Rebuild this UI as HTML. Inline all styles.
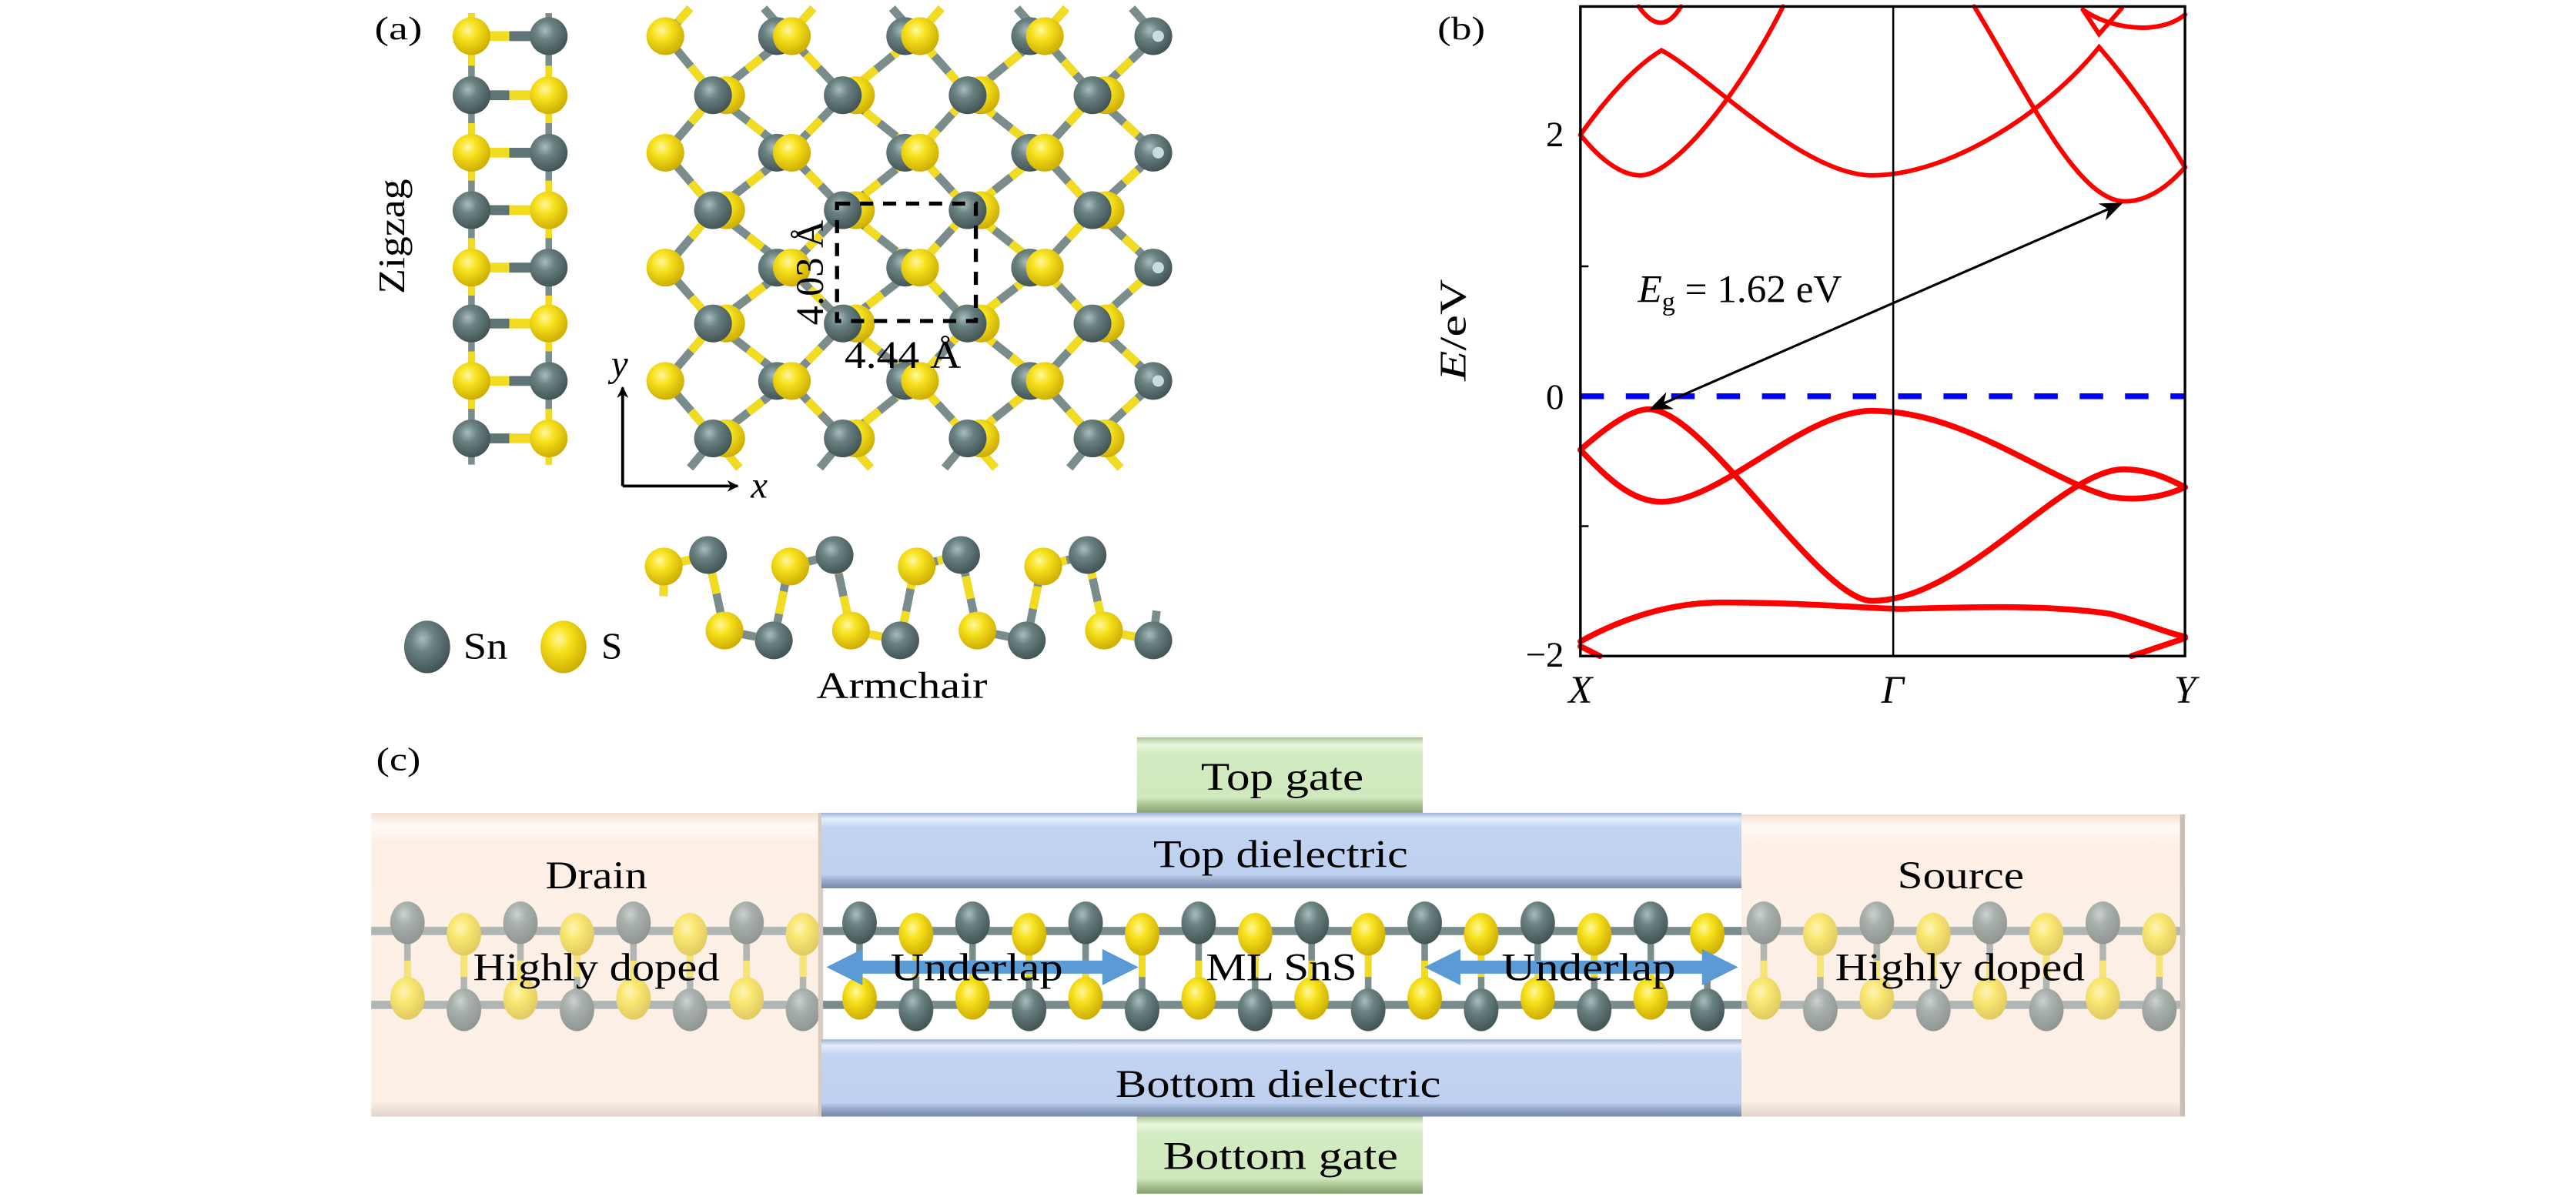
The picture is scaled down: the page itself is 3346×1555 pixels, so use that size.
<!DOCTYPE html>
<html><head><meta charset="utf-8"><style>
html,body{margin:0;padding:0;background:#fff;}
svg{display:block;}
text{font-family:"Liberation Serif",serif;fill:#000;}
</style></head><body>
<svg width="3346" height="1555" viewBox="0 0 1568 729" preserveAspectRatio="none" xmlns="http://www.w3.org/2000/svg">
<defs>
<radialGradient id="gSn" cx="0.4" cy="0.35" r="0.7">
<stop offset="0" stop-color="#a9bcbc"/><stop offset="0.35" stop-color="#6b8282"/><stop offset="1" stop-color="#3e4f50"/></radialGradient>
<radialGradient id="gS" cx="0.4" cy="0.35" r="0.7">
<stop offset="0" stop-color="#fff7a0"/><stop offset="0.35" stop-color="#f7e21e"/><stop offset="1" stop-color="#c9a800"/></radialGradient>
<circle id="sn" r="11.5" fill="url(#gSn)"/>
<circle id="s" r="11.5" fill="url(#gS)"/>
<linearGradient id="gBlue" x1="0" y1="0" x2="0" y2="1">
<stop offset="0" stop-color="#9fb3d6"/><stop offset="0.08" stop-color="#e4eefc"/><stop offset="0.2" stop-color="#c2d4f1"/><stop offset="0.82" stop-color="#bdd0ef"/><stop offset="0.9" stop-color="#98aacb"/><stop offset="1" stop-color="#7788a8"/></linearGradient>
<linearGradient id="gGreen" x1="0" y1="0" x2="0" y2="1">
<stop offset="0" stop-color="#a9c493"/><stop offset="0.1" stop-color="#eaf7de"/><stop offset="0.22" stop-color="#d3ebc2"/><stop offset="0.8" stop-color="#cfe8bd"/><stop offset="0.9" stop-color="#a6c08f"/><stop offset="1" stop-color="#86a070"/></linearGradient>
<linearGradient id="gPeach" x1="0" y1="0" x2="0" y2="1">
<stop offset="0" stop-color="#f3dfd2"/><stop offset="0.04" stop-color="#fffaf6"/><stop offset="0.1" stop-color="#fdefe5"/><stop offset="0.95" stop-color="#fcefe6"/><stop offset="1" stop-color="#e2d4ca"/></linearGradient>
<radialGradient id="eSn" cx="0.4" cy="0.3" r="0.75">
<stop offset="0" stop-color="#a9bcbc"/><stop offset="0.35" stop-color="#6b8282"/><stop offset="1" stop-color="#3e4f50"/></radialGradient>
<pattern id="layer" patternUnits="userSpaceOnUse" x="213.6" y="540" width="68.8" height="100">
<line x1="0" y1="27" x2="68.8" y2="27" stroke="#7a8c8c" stroke-width="5"/>
<line x1="0" y1="72" x2="68.8" y2="72" stroke="#7a8c8c" stroke-width="5"/>
<line x1="34.4" y1="27" x2="34.4" y2="72" stroke="#7a8c8c" stroke-width="4"/>
<line x1="34.4" y1="45" x2="34.4" y2="58" stroke="#f2dc22" stroke-width="4"/>
<line x1="0" y1="27" x2="0" y2="72" stroke="#7a8c8c" stroke-width="4"/>
<line x1="68.8" y1="27" x2="68.8" y2="72" stroke="#7a8c8c" stroke-width="4"/>
<line x1="0" y1="40" x2="0" y2="55" stroke="#f2dc22" stroke-width="4"/>
<line x1="68.8" y1="40" x2="68.8" y2="55" stroke="#f2dc22" stroke-width="4"/>
<ellipse cx="0" cy="29" rx="10.5" ry="13" fill="url(#gS)"/>
<ellipse cx="68.8" cy="29" rx="10.5" ry="13" fill="url(#gS)"/>
<ellipse cx="34.4" cy="22" rx="10.5" ry="13" fill="url(#eSn)"/>
<ellipse cx="34.4" cy="68" rx="10.5" ry="13" fill="url(#gS)"/>
<ellipse cx="0" cy="75" rx="10.5" ry="13" fill="url(#eSn)"/>
<ellipse cx="68.8" cy="75" rx="10.5" ry="13" fill="url(#eSn)"/>
</pattern>
<marker id="ah" viewBox="0 0 10 10" refX="9" refY="5" markerWidth="7" markerHeight="7" orient="auto-start-reverse" markerUnits="userSpaceOnUse">
<path d="M0,0 L10,5 L0,10 L3,5 Z" fill="#000"/></marker>
<marker id="ah2" viewBox="0 0 10 10" refX="9" refY="5" markerWidth="14" markerHeight="14" orient="auto-start-reverse" markerUnits="userSpaceOnUse">
<path d="M0,1 L10,5 L0,9 L3,5 Z" fill="#000"/></marker>
</defs>

<!-- ===== Panel (a) ===== -->
<text x="228" y="24" font-size="20" textLength="29" lengthAdjust="spacingAndGlyphs">(a)</text>
<text font-size="23" transform="translate(246,144) rotate(-90)" text-anchor="middle" textLength="70" lengthAdjust="spacingAndGlyphs">Zigzag</text>

<!-- zigzag side view -->
<g>
<line x1="287" y1="8" x2="287" y2="283" stroke="#7a8c8c" stroke-width="4"/>
<line x1="334" y1="8" x2="334" y2="283" stroke="#7a8c8c" stroke-width="4"/>
<g stroke="#f2dc22" stroke-width="4">
<line x1="287" y1="8" x2="287" y2="40"/><line x1="287" y1="75" x2="287" y2="110"/><line x1="287" y1="145" x2="287" y2="180"/><line x1="287" y1="214" x2="287" y2="249"/>
<line x1="334" y1="40" x2="334" y2="75"/><line x1="334" y1="110" x2="334" y2="145"/><line x1="334" y1="180" x2="334" y2="214"/><line x1="334" y1="249" x2="334" y2="283"/>
</g>
<g stroke-width="6">
<line x1="287" y1="22" x2="334" y2="22" stroke="#f2dc22"/><line x1="310" y1="22" x2="334" y2="22" stroke="#5f7474"/>
<line x1="287" y1="58" x2="334" y2="58" stroke="#f2dc22"/><line x1="287" y1="58" x2="310" y2="58" stroke="#5f7474"/>
<line x1="287" y1="93" x2="334" y2="93" stroke="#f2dc22"/><line x1="310" y1="93" x2="334" y2="93" stroke="#5f7474"/>
<line x1="287" y1="128" x2="334" y2="128" stroke="#f2dc22"/><line x1="287" y1="128" x2="310" y2="128" stroke="#5f7474"/>
<line x1="287" y1="163" x2="334" y2="163" stroke="#f2dc22"/><line x1="310" y1="163" x2="334" y2="163" stroke="#5f7474"/>
<line x1="287" y1="197" x2="334" y2="197" stroke="#f2dc22"/><line x1="287" y1="197" x2="310" y2="197" stroke="#5f7474"/>
<line x1="287" y1="232" x2="334" y2="232" stroke="#f2dc22"/><line x1="310" y1="232" x2="334" y2="232" stroke="#5f7474"/>
<line x1="287" y1="267" x2="334" y2="267" stroke="#f2dc22"/><line x1="287" y1="267" x2="310" y2="267" stroke="#5f7474"/>
</g>
<use href="#s" x="287" y="22"/><use href="#sn" x="334" y="22"/>
<use href="#sn" x="287" y="58"/><use href="#s" x="334" y="58"/>
<use href="#s" x="287" y="93"/><use href="#sn" x="334" y="93"/>
<use href="#sn" x="287" y="128"/><use href="#s" x="334" y="128"/>
<use href="#s" x="287" y="163"/><use href="#sn" x="334" y="163"/>
<use href="#sn" x="287" y="197"/><use href="#s" x="334" y="197"/>
<use href="#s" x="287" y="232"/><use href="#sn" x="334" y="232"/>
<use href="#sn" x="287" y="267"/><use href="#s" x="334" y="267"/>
</g>

<!-- top view -->
<g fill="none" stroke-linejoin="round">
<g stroke="#7a8c8c" stroke-width="5">
<line x1="405" y1="22" x2="420" y2="5"/>
<polyline points="405,22 435,58 480,22 514,58 558,22 590,58 634,22 666,58 704,22"/>
<polyline points="405,93 435,58 480,93 514,58 558,93 590,58 634,93 666,58 704,93"/>
<polyline points="405,93 435,128 480,93 514,128 558,93 590,128 634,93 666,128 704,93"/>
<polyline points="405,163 435,128 480,163 514,128 558,163 590,128 634,163 666,128 704,163"/>
<polyline points="405,163 435,197 480,163 514,197 558,163 590,197 634,163 666,197 704,163"/>
<polyline points="405,232 435,197 480,232 514,197 558,232 590,197 634,232 666,197 704,232"/>
<polyline points="405,232 435,267 480,232 514,267 558,232 590,267 634,232 666,267 704,232"/>
<line x1="420" y1="285" x2="435" y2="267"/><line x1="435" y1="267" x2="450" y2="285"/>
<line x1="499" y1="285" x2="514" y2="267"/><line x1="514" y1="267" x2="530" y2="285"/>
<line x1="575" y1="285" x2="590" y2="267"/><line x1="590" y1="267" x2="606" y2="285"/>
<line x1="651" y1="285" x2="666" y2="267"/><line x1="666" y1="267" x2="682" y2="285"/>
<line x1="465" y1="5" x2="480" y2="22"/><line x1="480" y1="22" x2="495" y2="5"/>
<line x1="543" y1="5" x2="558" y2="22"/><line x1="558" y1="22" x2="573" y2="5"/>
<line x1="619" y1="5" x2="634" y2="22"/><line x1="634" y1="22" x2="649" y2="5"/>
<line x1="689" y1="5" x2="704" y2="22"/>
</g>
<g stroke="#f2dc22" stroke-width="5" stroke-dasharray="11 13">
<polyline points="405,22 435,58 480,22 514,58 558,22 590,58 634,22 666,58 704,22"/>
<polyline points="405,93 435,58 480,93 514,58 558,93 590,58 634,93 666,58 704,93"/>
<polyline points="405,93 435,128 480,93 514,128 558,93 590,128 634,93 666,128 704,93"/>
<polyline points="405,163 435,128 480,163 514,128 558,163 590,128 634,163 666,128 704,163"/>
<polyline points="405,163 435,197 480,163 514,197 558,163 590,197 634,163 666,197 704,163"/>
<polyline points="405,232 435,197 480,232 514,197 558,232 590,197 634,232 666,197 704,232"/>
<polyline points="405,232 435,267 480,232 514,267 558,232 590,267 634,232 666,267 704,232"/>
<line x1="495" y1="5" x2="480" y2="22"/><line x1="573" y1="5" x2="558" y2="22"/><line x1="649" y1="5" x2="634" y2="22"/><line x1="420" y1="5" x2="405" y2="22"/>
<line x1="450" y1="285" x2="435" y2="267"/><line x1="530" y1="285" x2="514" y2="267"/><line x1="606" y1="285" x2="590" y2="267"/><line x1="682" y1="285" x2="666" y2="267"/>
</g>
</g>
<g>
<use href="#s" x="405" y="22"/><use href="#sn" x="473" y="22"/><use href="#s" x="482" y="22"/><use href="#sn" x="551" y="22"/><use href="#s" x="560" y="22"/><use href="#sn" x="627" y="22"/><use href="#s" x="636" y="22"/><use href="#sn" x="702" y="22"/>
<use href="#s" x="405" y="93"/><use href="#sn" x="473" y="93"/><use href="#s" x="482" y="93"/><use href="#sn" x="551" y="93"/><use href="#s" x="560" y="93"/><use href="#sn" x="627" y="93"/><use href="#s" x="636" y="93"/><use href="#sn" x="702" y="93"/>
<use href="#s" x="405" y="163"/><use href="#sn" x="473" y="163"/><use href="#s" x="482" y="163"/><use href="#sn" x="551" y="163"/><use href="#s" x="560" y="163"/><use href="#sn" x="627" y="163"/><use href="#s" x="636" y="163"/><use href="#sn" x="702" y="163"/>
<use href="#s" x="405" y="232"/><use href="#sn" x="473" y="232"/><use href="#s" x="482" y="232"/><use href="#sn" x="551" y="232"/><use href="#s" x="560" y="232"/><use href="#sn" x="627" y="232"/><use href="#s" x="636" y="232"/><use href="#sn" x="702" y="232"/>
<g fill="#c8dede"><circle cx="705" cy="22" r="3.5"/><circle cx="705" cy="93" r="3.5"/><circle cx="705" cy="163" r="3.5"/><circle cx="705" cy="232" r="3.5"/></g>
<use href="#s" x="442" y="58"/><use href="#sn" x="434" y="58"/><use href="#s" x="521" y="58"/><use href="#sn" x="513" y="58"/><use href="#s" x="597" y="58"/><use href="#sn" x="589" y="58"/><use href="#s" x="673" y="58"/><use href="#sn" x="665" y="58"/>
<use href="#s" x="442" y="128"/><use href="#sn" x="434" y="128"/><use href="#s" x="521" y="128"/><use href="#sn" x="513" y="128"/><use href="#s" x="597" y="128"/><use href="#sn" x="589" y="128"/><use href="#s" x="673" y="128"/><use href="#sn" x="665" y="128"/>
<use href="#s" x="442" y="197"/><use href="#sn" x="434" y="197"/><use href="#s" x="521" y="197"/><use href="#sn" x="513" y="197"/><use href="#s" x="597" y="197"/><use href="#sn" x="589" y="197"/><use href="#s" x="673" y="197"/><use href="#sn" x="665" y="197"/>
<use href="#s" x="442" y="267"/><use href="#sn" x="434" y="267"/><use href="#s" x="521" y="267"/><use href="#sn" x="513" y="267"/><use href="#s" x="597" y="267"/><use href="#sn" x="589" y="267"/><use href="#s" x="673" y="267"/><use href="#sn" x="665" y="267"/>
</g>
<rect x="509.5" y="124" width="84.5" height="71.5" fill="none" stroke="#000" stroke-width="2.5" stroke-dasharray="8 6"/>
<text font-size="24" transform="translate(501,198) rotate(-90)" textLength="64" lengthAdjust="spacingAndGlyphs">4.03 Å</text>
<text x="514" y="224" font-size="24" textLength="71" lengthAdjust="spacingAndGlyphs">4.44 Å</text>
<line x1="379" y1="296" x2="379" y2="236" stroke="#000" stroke-width="1.8" marker-end="url(#ah)"/>
<line x1="379" y1="296" x2="449" y2="296" stroke="#000" stroke-width="1.8" marker-end="url(#ah)"/>
<text x="372" y="229" font-size="23" font-style="italic">y</text>
<text x="457" y="303" font-size="23" font-style="italic">x</text>

<!-- armchair -->
<g fill="none">
<polyline points="404,363 404,345 431,338 441,384 471,390 480,345 508,338 518,384 548,390 557,345 585,338 595,384 625,390 634,345 662,338 672,384 702,390 704,372" stroke="#7a8c8c" stroke-width="5" stroke-linejoin="round"/>
<polyline points="404,363 404,345 431,338 441,384 471,390 480,345 508,338 518,384 548,390 557,345 585,338 595,384 625,390 634,345 662,338 672,384 702,390" stroke="#f2dc22" stroke-width="5" stroke-dasharray="14 14" stroke-linejoin="round"/>
</g>
<use href="#s" x="404" y="345"/><use href="#sn" x="431" y="338"/><use href="#s" x="441" y="384"/><use href="#sn" x="471" y="390"/>
<use href="#s" x="481" y="345"/><use href="#sn" x="508" y="338"/><use href="#s" x="518" y="384"/><use href="#sn" x="548" y="390"/>
<use href="#s" x="558" y="345"/><use href="#sn" x="585" y="338"/><use href="#s" x="595" y="384"/><use href="#sn" x="625" y="390"/>
<use href="#s" x="635" y="345"/><use href="#sn" x="662" y="338"/><use href="#s" x="672" y="384"/><use href="#sn" x="702" y="390"/>
<text x="497" y="425" font-size="23" textLength="104" lengthAdjust="spacingAndGlyphs">Armchair</text>
<ellipse cx="260" cy="394" rx="14" ry="16" fill="url(#gSn)"/>
<text x="282" y="401" font-size="23" textLength="27" lengthAdjust="spacingAndGlyphs">Sn</text>
<ellipse cx="343" cy="394" rx="14" ry="16" fill="url(#gS)"/>
<text x="366" y="401" font-size="23">S</text>

<!-- ===== Panel (b) ===== -->
<text x="875" y="24" font-size="20" textLength="29" lengthAdjust="spacingAndGlyphs">(b)</text>
<text font-size="23" transform="translate(892,201) rotate(-90)" text-anchor="middle" textLength="62" lengthAdjust="spacingAndGlyphs"><tspan font-style="italic">E</tspan>/eV</text>
<text x="952" y="89" font-size="22" text-anchor="end">2</text>
<text x="952" y="249" font-size="22" text-anchor="end">0</text>
<text x="952" y="406" font-size="22" text-anchor="end">−2</text>
<text x="962" y="428" font-size="24" font-style="italic" text-anchor="middle">X</text>
<text x="1152" y="428" font-size="24" font-style="italic" text-anchor="middle">Γ</text>
<text x="1330" y="428" font-size="24" font-style="italic" text-anchor="middle">Y</text>
<g transform="matrix(0.9866,0,0,0.989,11.9,0)">
<g fill="none" stroke="#f00" stroke-linecap="round">
<g stroke-width="2.8">
<path d="M963,83 C975,98 988,108 1000,108 C1020,108 1060,60 1088,4"/>
<path d="M963,83 Q990,45 1013,31 C1040,45 1100,108 1143,108 C1190,108 1250,70 1283,29 Q1310,60 1336,103"/>
<path d="M1206,4 C1240,60 1270,124 1299,124 C1315,124 1328,112 1336,103"/>
<path d="M999,4 Q1013,24 1025,4"/>
<path d="M1273,6 L1283,21 L1297,5"/>
<path d="M1273,6 C1290,18 1320,22 1336,9"/>
</g>
<g stroke-width="3.6">
<path d="M963,277 C980,262 995,252 1005,252 C1040,252 1110,370 1143,370 C1200,370 1260,289 1298,289 C1315,289 1328,296 1336,300"/>
<path d="M963,277 C980,295 995,309 1013,309 C1050,309 1100,253 1143,253 C1200,253 1250,295 1290,306 C1310,309 1325,305 1336,300"/>
<path d="M963,395 C990,380 1020,371 1050,371 C1100,371 1130,374 1160,375 C1200,374 1250,372 1290,378 C1310,383 1325,390 1336,392"/>
<path d="M963,398 L975,404"/><path d="M1303,404 L1336,393"/>
</g>
</g>
<line x1="963" y1="244" x2="1336" y2="244" stroke="#0000ff" stroke-width="3.6" stroke-dasharray="14.5 13.5"/>
<line x1="1156" y1="4" x2="1156" y2="404" stroke="#000" stroke-width="1.2"/>
<line x1="963" y1="164" x2="968" y2="164" stroke="#000" stroke-width="1.2"/>
<line x1="963" y1="324" x2="968" y2="324" stroke="#000" stroke-width="1.2"/>
<rect x="963" y="4" width="373" height="400" fill="none" stroke="#000" stroke-width="1.6"/>
</g>
<line x1="1291" y1="124" x2="1005" y2="249" stroke="#000" stroke-width="1.5" marker-start="url(#ah2)" marker-end="url(#ah2)"/>
<text x="997" y="184" font-size="24"><tspan font-style="italic">E</tspan><tspan font-size="16" dy="5">g</tspan><tspan dy="-5"> = 1.62 eV</tspan></text>

<!-- ===== Panel (c) ===== -->
<text x="229" y="469" font-size="20" textLength="27" lengthAdjust="spacingAndGlyphs">(c)</text>
<rect x="226" y="495" width="274" height="185" fill="url(#gPeach)"/>
<rect x="1060" y="496" width="270" height="184" fill="url(#gPeach)"/>
<rect x="226" y="540" width="1104" height="100" fill="url(#layer)"/>
<rect x="226" y="540" width="274" height="100" fill="#fdf0e6" opacity="0.42"/>
<rect x="1060" y="540" width="270" height="100" fill="#fdf0e6" opacity="0.42"/>
<rect x="498" y="495" width="3" height="185" fill="#d8cbc2"/>
<rect x="1327" y="496" width="3" height="184" fill="#c9bdb5"/>
<rect x="692" y="449" width="174" height="46" fill="url(#gGreen)"/>
<rect x="692" y="680" width="174" height="47" fill="url(#gGreen)"/>
<rect x="500" y="495" width="560" height="46" fill="url(#gBlue)"/>
<rect x="500" y="633" width="560" height="47" fill="url(#gBlue)"/>
<g fill="#5b9bd5">
<polygon points="503,589 525,578 525,585 671,585 671,578 693,589 671,600 671,593 525,593 525,600"/>
<polygon points="867,589 889,578 889,585 1036,585 1036,578 1058,589 1036,600 1036,593 889,593 889,600"/>
</g>
<g font-size="24" lengthAdjust="spacingAndGlyphs">
<text x="731" y="481" textLength="99" lengthAdjust="spacingAndGlyphs">Top gate</text>
<text x="702" y="528" textLength="155" lengthAdjust="spacingAndGlyphs">Top dielectric</text>
<text x="679" y="668" textLength="198" lengthAdjust="spacingAndGlyphs">Bottom dielectric</text>
<text x="708" y="712" textLength="143" lengthAdjust="spacingAndGlyphs">Bottom gate</text>
<text x="332" y="541" textLength="62" lengthAdjust="spacingAndGlyphs">Drain</text>
<text x="1155" y="541" textLength="77" lengthAdjust="spacingAndGlyphs">Source</text>
<text x="288" y="597" textLength="150" lengthAdjust="spacingAndGlyphs">Highly doped</text>
<text x="1117" y="597" textLength="152" lengthAdjust="spacingAndGlyphs">Highly doped</text>
<text x="542" y="597" textLength="105" lengthAdjust="spacingAndGlyphs">Underlap</text>
<text x="914" y="597" textLength="106" lengthAdjust="spacingAndGlyphs">Underlap</text>
<text x="734" y="597" textLength="92" lengthAdjust="spacingAndGlyphs">ML SnS</text>
</g>
</svg>
</body></html>
